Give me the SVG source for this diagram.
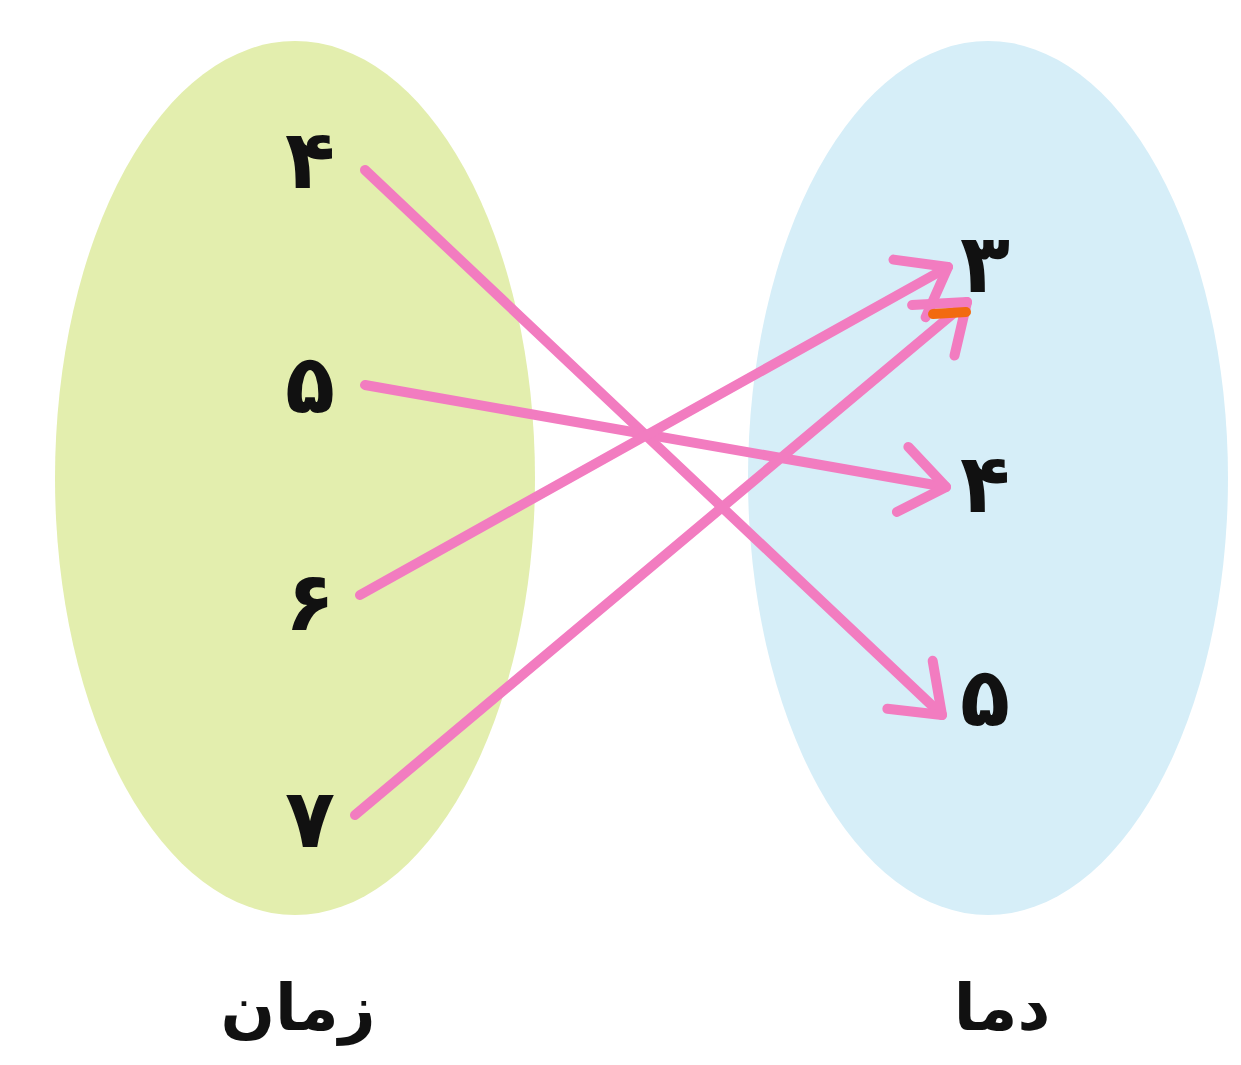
<svg xmlns="http://www.w3.org/2000/svg" width="1241" height="1065" viewBox="0 0 1241 1065">
<style>
.num{font-family:"DejaVu Sans",sans-serif;font-weight:bold;font-size:82px;fill:#111;text-anchor:middle;direction:rtl;unicode-bidi:embed}
.lbl{font-family:"DejaVu Sans",sans-serif;font-weight:bold;font-size:64px;fill:#111;text-anchor:middle;direction:rtl;unicode-bidi:embed}
.arr{stroke:#f27cc0;stroke-width:10;stroke-linecap:round;fill:none;marker-end:url(#ah)}
</style>
<defs>
<marker id="ah" viewBox="-6 -4 7 8" markerWidth="7" markerHeight="8" refX="0" refY="0" orient="auto" markerUnits="strokeWidth">
<path d="M-4.4,-3.3 L0,0 L-4.4,3.3" fill="none" stroke="#f27cc0" stroke-width="1" stroke-linecap="round" stroke-linejoin="round"/>
</marker>
</defs>
<rect width="1241" height="1065" fill="#fff"/>
<g id="set-time">
<ellipse cx="295" cy="478" rx="240" ry="437" fill="#e3eeae"/>
<text class="num" x="310" y="188">۴</text>
<text class="num" x="310" y="413">۵</text>
<text class="num" x="310" y="630">۶</text>
<text class="num" x="310" y="847">۷</text>
<text class="lbl" x="298" y="1030">زمان</text>
</g>
<g id="set-temp">
<ellipse cx="988" cy="478" rx="240" ry="437" fill="#d6eef8"/>
<text class="num" x="985" y="292">۳</text>
<text class="num" x="985" y="512">۴</text>
<text class="num" x="985" y="726">۵</text>
<text class="lbl" x="1002" y="1030">دما</text>
</g>
<g id="connectors">
<line class="arr" x1="365" y1="170" x2="942" y2="715"/>
<line class="arr" x1="365" y1="385" x2="946" y2="487"/>
<line class="arr" x1="360" y1="595" x2="948" y2="267"/>
<line class="arr" x1="355" y1="815" x2="967" y2="302"/>
<line x1="933" y1="314" x2="966" y2="312" stroke="#f26a10" stroke-width="10" stroke-linecap="round"/>
</g>
</svg>
